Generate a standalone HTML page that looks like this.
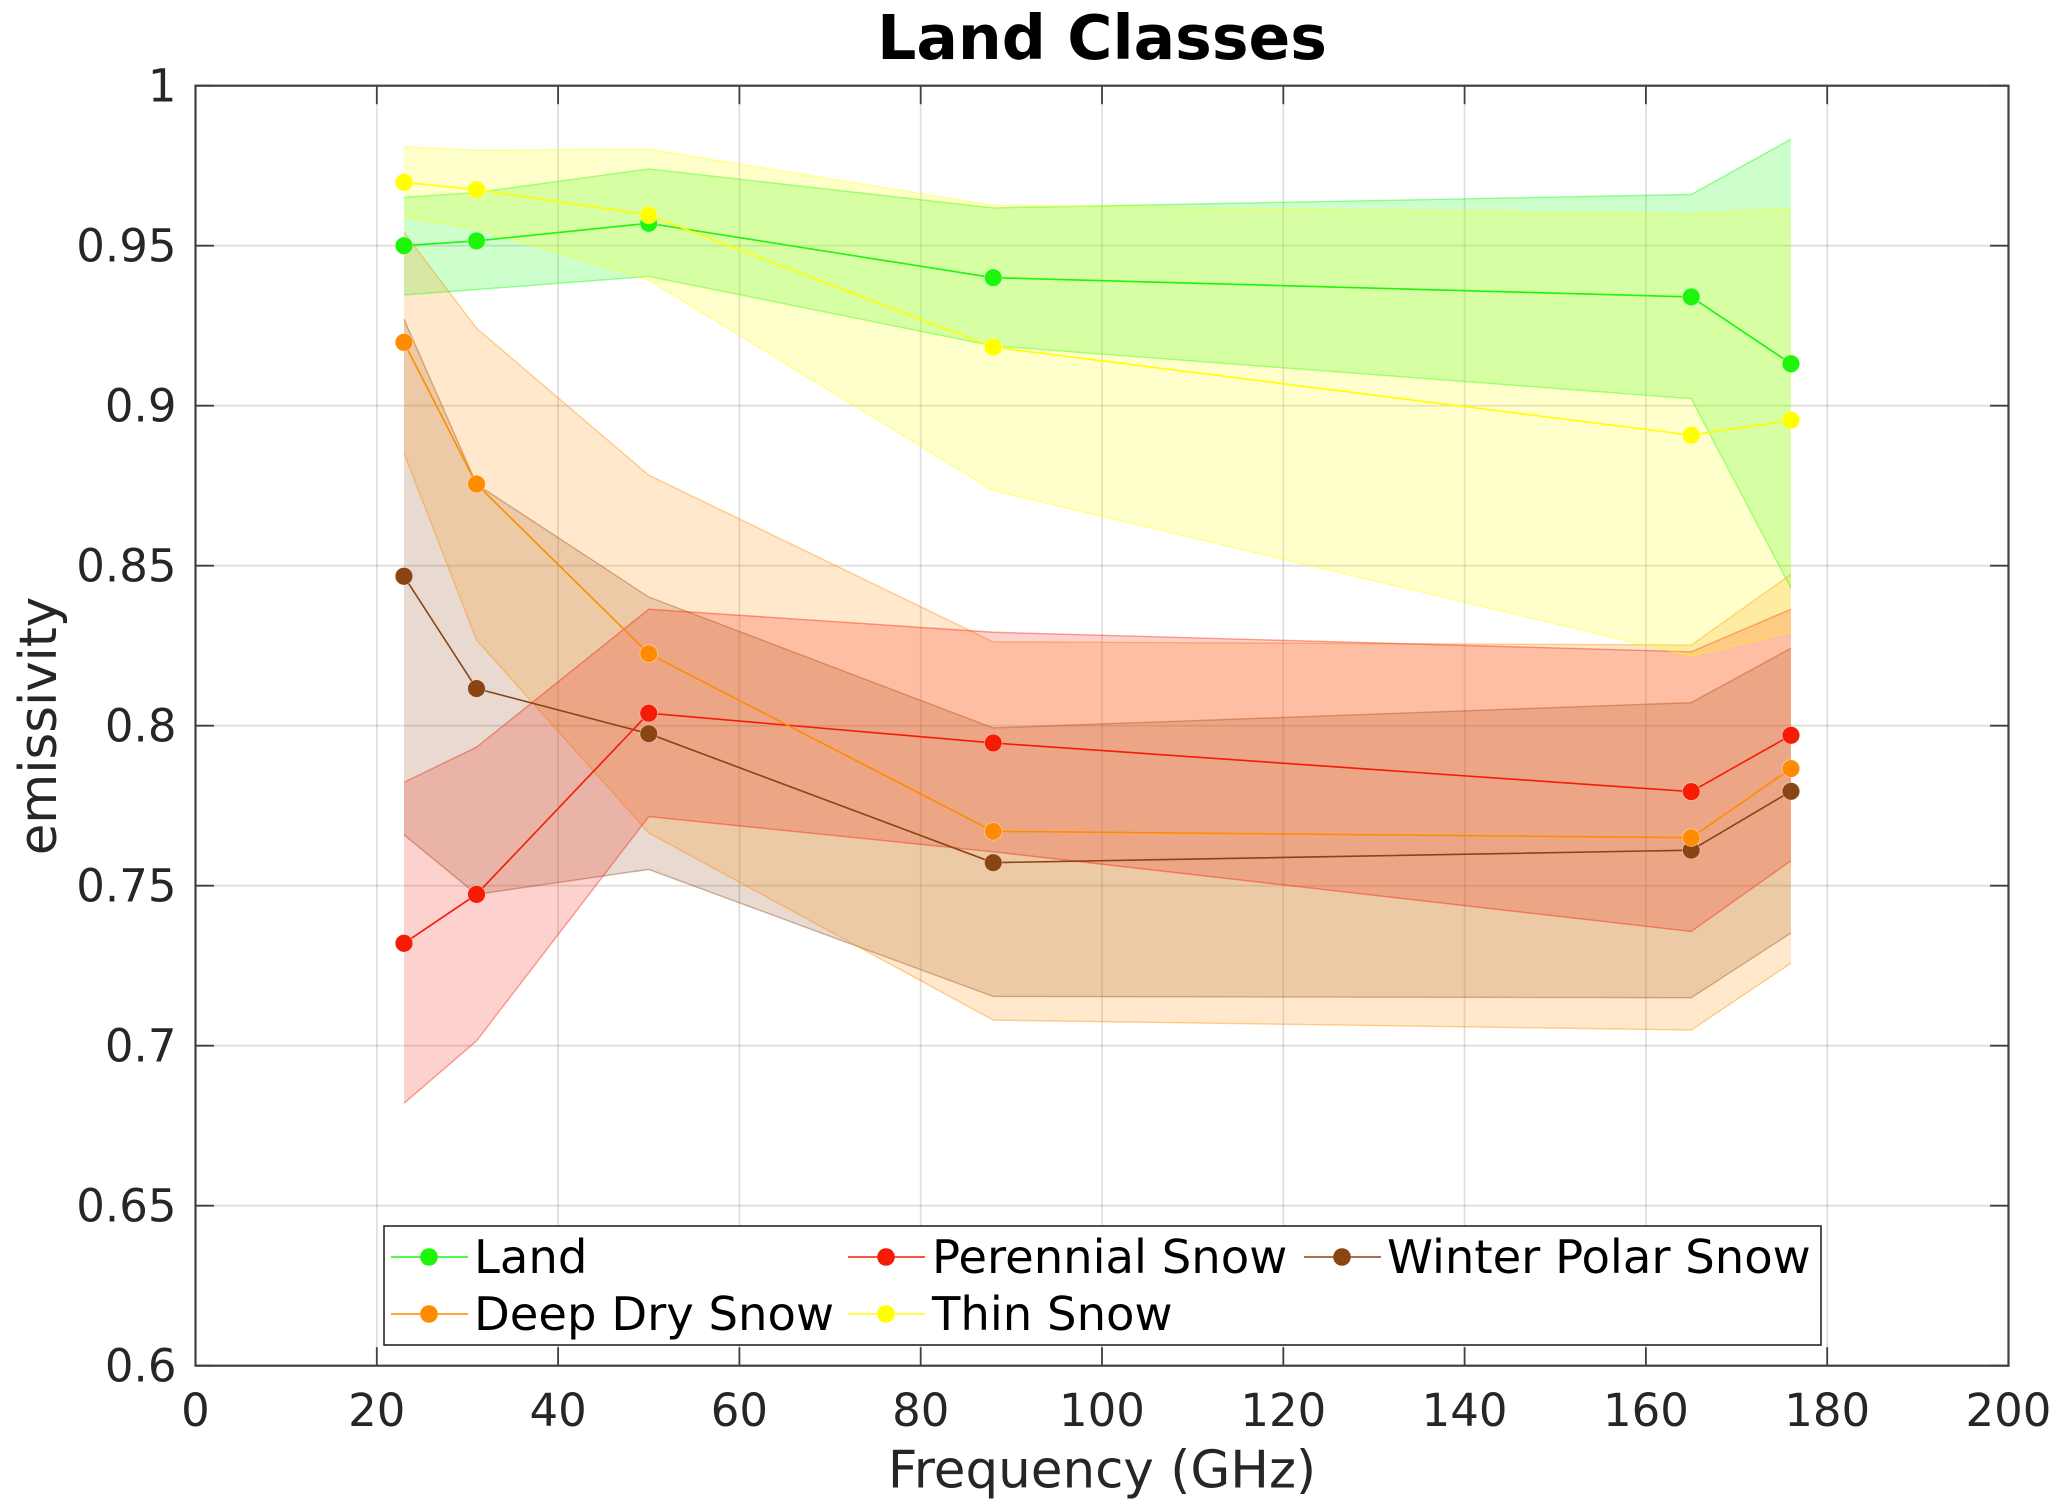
<!DOCTYPE html>
<html lang="en">
<head>
<meta charset="utf-8">
<title>Land Classes</title>
<style>
html,body{margin:0;padding:0;background:#fff;}
svg{display:block;}
text{font-family:"DejaVu Sans","Liberation Sans",sans-serif;fill:#262626;}
</style>
</head>
<body>
<svg id="chart" xmlns="http://www.w3.org/2000/svg" width="2067" height="1511" viewBox="0 0 2067 1511">
  <rect x="0" y="0" width="2067" height="1511" fill="#fff"/>
  <g id="grid"></g>
  <g id="bands"></g>
  <g id="lines"></g>
  <g id="ticks"></g>
  <rect x="195.5" y="85.7" width="1813" height="1280" fill="none" stroke="#404040" stroke-width="2.2"/>
  <g id="tick-labels"></g>
  <text x="1102" y="59" font-size="61.6" font-weight="bold" text-anchor="middle" style="fill:#000">Land Classes</text>
  <text x="1102" y="1487.5" font-size="51.5" text-anchor="middle">Frequency (GHz)</text>
  <text transform="translate(56 726) rotate(-90)" font-size="51.3" text-anchor="middle">emissivity</text>
  <g>
    <rect x="384" y="1226" width="1437" height="119" fill="#fff" stroke="#262626" stroke-width="1.6"/>
    <g>
      <line x1="391" x2="468" y1="1257" y2="1257" stroke="#1ef50a" stroke-width="1.6"/>
      <circle cx="429" cy="1257" r="8.8" fill="#1ef50a"/>
      <text x="474" y="1273" font-size="46.5" style="fill:#000">Land</text>
    </g>
    <g>
      <line x1="391" x2="468" y1="1314" y2="1314" stroke="#ff8c00" stroke-width="1.6"/>
      <circle cx="429" cy="1314" r="8.8" fill="#ff8c00"/>
      <text x="474" y="1330" font-size="46.5" style="fill:#000">Deep Dry Snow</text>
    </g>
    <g>
      <line x1="848" x2="925" y1="1257" y2="1257" stroke="#f51b05" stroke-width="1.6"/>
      <circle cx="886" cy="1257" r="8.8" fill="#f51b05"/>
      <text x="932" y="1273" font-size="46.5" style="fill:#000">Perennial Snow</text>
    </g>
    <g>
      <line x1="848" x2="925" y1="1314" y2="1314" stroke="#ffff00" stroke-width="1.6"/>
      <circle cx="886" cy="1314" r="8.8" fill="#ffff00"/>
      <text x="932" y="1330" font-size="46.5" style="fill:#000">Thin Snow</text>
    </g>
    <g>
      <line x1="1304" x2="1381" y1="1257" y2="1257" stroke="#8b4513" stroke-width="1.6"/>
      <circle cx="1342" cy="1257" r="8.8" fill="#8b4513"/>
      <text x="1387" y="1273" font-size="46.5" style="fill:#000">Winter Polar Snow</text>
    </g>
  </g>
</svg>
<script>
const xTickValues = [0, 20, 40, 60, 80, 100, 120, 140, 160, 180, 200];
const yTickValues = [0.6, 0.65, 0.7, 0.75, 0.8, 0.85, 0.9, 0.95, 1];
const yTickLabels = ["0.6", "0.65", "0.7", "0.75", "0.8", "0.85", "0.9", "0.95", "1"];
const frequencies = [23, 31, 50, 88, 165, 176];

const landMean = [0.95, 0.9515, 0.957, 0.94, 0.934, 0.9131];
const landUpper = [0.9651, 0.9666, 0.974, 0.9618, 0.966, 0.9833];
const landLower = [0.9346, 0.9363, 0.9404, 0.9187, 0.9022, 0.843];

const deepMean = [0.9198, 0.8755, 0.8225, 0.767, 0.765, 0.7866];
const deepUpper = [0.9542, 0.9242, 0.8783, 0.8262, 0.8252, 0.8473];
const deepLower = [0.8852, 0.8268, 0.7665, 0.708, 0.7049, 0.7258];

const perennialMean = [0.732, 0.7473, 0.8039, 0.7946, 0.7794, 0.797];
const perennialUpper = [0.7823, 0.7933, 0.8364, 0.8292, 0.8231, 0.8364];
const perennialLower = [0.682, 0.7015, 0.7716, 0.7606, 0.7357, 0.7578];

const thinMean = [0.9698, 0.9675, 0.9596, 0.9183, 0.8908, 0.8955];
const thinUpper = [0.9809, 0.9798, 0.9801, 0.9626, 0.9599, 0.9617];
const thinLower = [0.9589, 0.9553, 0.9393, 0.8735, 0.8218, 0.8293];

const winterMean = [0.8467, 0.8116, 0.7975, 0.7572, 0.7611, 0.7795];
const winterUpper = [0.927, 0.8755, 0.8402, 0.7993, 0.8072, 0.8242];
const winterLower = [0.7659, 0.7473, 0.7551, 0.7154, 0.715, 0.7352];

const bandOrder = [
  {key: "winter-polar-snow", color: "#8b4513", upper: winterUpper, lower: winterLower},
  {key: "land", color: "#00ff00", upper: landUpper, lower: landLower},
  {key: "deep-dry-snow", color: "#ff8c00", upper: deepUpper, lower: deepLower},
  {key: "perennial-snow", color: "#f51b05", upper: perennialUpper, lower: perennialLower},
  {key: "thin-snow", color: "#ffff00", upper: thinUpper, lower: thinLower}
];
const lineOrder = [
  {key: "winter-polar-snow", color: "#8b4513", mean: winterMean},
  {key: "land", color: "#1ef50a", mean: landMean},
  {key: "perennial-snow", color: "#f51b05", mean: perennialMean},
  {key: "deep-dry-snow", color: "#ff8c00", mean: deepMean},
  {key: "thin-snow", color: "#ffff00", mean: thinMean}
];

const plotLeft = 195.5, plotRight = 2008.5, plotTop = 85.7, plotBottom = 1365.7;
const xMin = 0, xMax = 200, yMin = 0.6, yMax = 1;
function xScale(v) { return plotLeft + (v - xMin) / (xMax - xMin) * (plotRight - plotLeft); }
function yScale(v) { return plotBottom - (v - yMin) / (yMax - yMin) * (plotBottom - plotTop); }

const NS = "http://www.w3.org/2000/svg";
function make(tag, parentId) {
  const el = document.createElementNS(NS, tag);
  document.getElementById(parentId).appendChild(el);
  return el;
}
function segment(el, x1, y1, x2, y2, color, width) {
  el.setAttribute("x1", x1);
  el.setAttribute("y1", y1);
  el.setAttribute("x2", x2);
  el.setAttribute("y2", y2);
  el.setAttribute("stroke", color);
  el.setAttribute("stroke-width", width);
}
const tickLen = 18.5;

xTickValues.forEach(function (v) {
  const x = xScale(v);
  if (v !== xMin && v !== xMax) {
    const g = make("line", "grid");
    
    
    segment(g, x, plotTop, x, plotBottom, "rgba(0,0,0,0.12)", 1.8);
  }
  const t1 = make("line", "ticks");
  
  
  segment(t1, x, plotBottom, x, plotBottom - tickLen, "#404040", 1.8);
  const t2 = make("line", "ticks");
  
  
  segment(t2, x, plotTop, x, plotTop + tickLen, "#404040", 1.8);
  const label = make("text", "tick-labels");
  
  
  label.setAttribute("x", x);
  label.setAttribute("y", 1426);
  label.setAttribute("font-size", "45");
  label.setAttribute("text-anchor", "middle");
  label.textContent = String(v);
});

yTickValues.forEach(function (v, i) {
  const y = yScale(v);
  if (v !== yMin && v !== yMax) {
    const g = make("line", "grid");
    
    
    segment(g, plotLeft, y, plotRight, y, "rgba(0,0,0,0.12)", 1.8);
  }
  const t1 = make("line", "ticks");
  
  
  segment(t1, plotLeft, y, plotLeft + tickLen, y, "#404040", 1.8);
  const t2 = make("line", "ticks");
  
  
  segment(t2, plotRight, y, plotRight - tickLen, y, "#404040", 1.8);
  const label = make("text", "tick-labels");
  
  
  label.setAttribute("x", 176.5);
  label.setAttribute("y", y + 16);
  label.setAttribute("font-size", "45");
  label.setAttribute("text-anchor", "end");
  label.textContent = yTickLabels[i];
});

bandOrder.forEach(function (s) {
  const top = frequencies.map(function (f, i) { return xScale(f) + "," + yScale(s.upper[i]); });
  const bottom = frequencies.map(function (f, i) { return xScale(f) + "," + yScale(s.lower[i]); }).reverse();
  const band = make("polygon", "bands");
  
  
  band.setAttribute("points", top.concat(bottom).join(" "));
  band.setAttribute("fill", s.color);
  band.setAttribute("fill-opacity", "0.2");
  const edgeTop = make("polyline", "bands");
  
  
  edgeTop.setAttribute("points", top.join(" "));
  const edgeBottom = make("polyline", "bands");
  
  
  edgeBottom.setAttribute("points", bottom.join(" "));
  [edgeTop, edgeBottom].forEach(function (e) {
    e.setAttribute("fill", "none");
    e.setAttribute("stroke", s.color);
    e.setAttribute("stroke-opacity", "0.4");
    e.setAttribute("stroke-width", "1.4");
  });
});

lineOrder.forEach(function (s) {
  const pts = frequencies.map(function (f, i) { return xScale(f) + "," + yScale(s.mean[i]); });
  const line = make("polyline", "lines");
  
  
  line.setAttribute("points", pts.join(" "));
  line.setAttribute("fill", "none");
  line.setAttribute("stroke", s.color);
  line.setAttribute("stroke-width", "1.6");
  frequencies.forEach(function (f, i) {
    const c = make("circle", "lines");
    
    
    c.setAttribute("cx", xScale(f));
    c.setAttribute("cy", yScale(s.mean[i]));
    c.setAttribute("r", "8.8");
    c.setAttribute("fill", s.color);
    c.setAttribute("stroke", "#fff");
    c.setAttribute("stroke-opacity", "0.5");
    c.setAttribute("stroke-width", "0.7");
  });
});
</script>
</body>
</html>
